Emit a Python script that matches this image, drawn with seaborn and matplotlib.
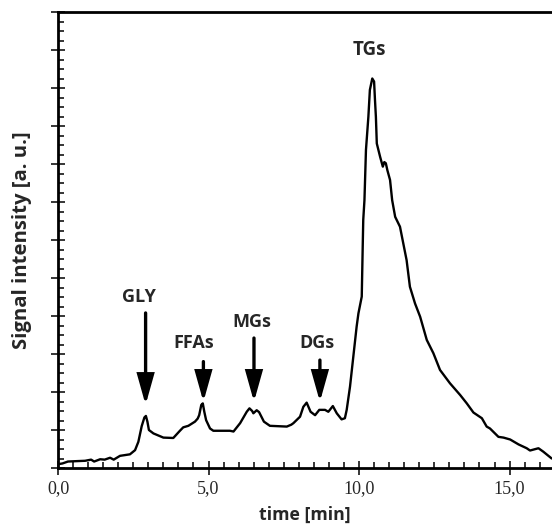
import matplotlib
matplotlib.use("Agg")
import matplotlib.pyplot as plt
from matplotlib.ticker import MultipleLocator
import seaborn as sns
import pandas as pd

# ---- data ----
time_min = [0.0, 0.15, 0.33, 0.6, 0.9, 1.1, 1.2, 1.4, 1.55, 1.73, 1.85, 2.06, 2.39, 2.56,
            2.67, 2.78, 2.87, 2.92, 2.97, 3.02, 3.17, 3.5, 3.83, 4.05, 4.16, 4.33, 4.55,
            4.64, 4.69, 4.76, 4.81, 4.86, 4.92, 5.05, 5.16, 5.71, 5.83, 6.05, 6.27, 6.36,
            6.45, 6.49, 6.60, 6.68, 6.84, 7.04, 7.60, 7.75, 7.82, 8.04, 8.15, 8.26, 8.39,
            8.54, 8.68, 8.87, 8.98, 9.13, 9.26, 9.42, 9.53, 9.59, 9.70, 9.81, 9.92, 9.98,
            10.09, 10.12, 10.14, 10.18, 10.23, 10.31, 10.36, 10.44, 10.50, 10.53, 10.56,
            10.59, 10.70, 10.79, 10.84, 10.89, 10.94, 11.03, 11.10, 11.20, 11.36, 11.47,
            11.58, 11.69, 11.86, 12.03, 12.25, 12.47, 12.69, 13.02, 13.36, 13.58, 13.80,
            14.08, 14.24, 14.35, 14.63, 14.80, 15.02, 15.30, 15.57, 15.68, 15.96, 16.12, 16.40]
signal = [0.10, 0.12, 0.17, 0.18, 0.19, 0.22, 0.17, 0.23, 0.22, 0.27, 0.22, 0.32, 0.36, 0.47,
          0.69, 1.10, 1.33, 1.37, 1.22, 1.00, 0.91, 0.80, 0.79, 0.98, 1.07, 1.11, 1.22,
          1.30, 1.39, 1.66, 1.70, 1.48, 1.26, 1.04, 0.98, 0.98, 0.96, 1.18, 1.48, 1.57,
          1.50, 1.44, 1.52, 1.47, 1.22, 1.11, 1.09, 1.14, 1.18, 1.35, 1.61, 1.72, 1.48,
          1.39, 1.53, 1.53, 1.48, 1.63, 1.44, 1.28, 1.31, 1.53, 2.14, 2.93, 3.72, 4.07,
          4.51, 5.74, 6.53, 7.05, 8.37, 9.24, 9.95, 10.25, 10.17, 9.68, 9.24,
          8.54, 8.19, 7.93, 8.05, 8.02, 7.84, 7.58, 7.05, 6.61, 6.35, 5.91,
          5.47, 4.77, 4.33, 3.98, 3.37, 3.02, 2.58, 2.23, 1.92, 1.70, 1.46,
          1.31, 1.09, 1.04, 0.82, 0.80, 0.75, 0.62, 0.52, 0.46, 0.52, 0.43, 0.25]

x_tick_values = [0, 5, 10, 15]
x_tick_labels = ["0,0", "5,0", "10,0", "15,0"]

peak_labels = ["GLY", "FFAs", "MGs", "DGs"]
peak_x = [2.91, 4.83, 6.51, 8.70]
arrow_tip_y = [1.66, 1.74, 1.74, 1.74]
arrow_tail_y = [4.08, 2.80, 3.42, 2.84]
label_x = [2.69, 4.50, 6.44, 8.59]
label_y = [4.50, 3.28, 3.85, 3.28]
tg_label = "TGs"
tg_x, tg_y = 10.34, 11.0

df = pd.DataFrame({"time": time_min, "signal": signal})

sns.set_theme(style="white")
plt.rcParams["font.family"] = ["Open Sans", "DejaVu Sans"]

fig = plt.figure(figsize=(5.52, 5.26), dpi=100)
ax = fig.add_axes([58 / 552, 58 / 526, 494 / 552, 456 / 526])

sns.lineplot(data=df, x="time", y="signal", ax=ax, color="black", linewidth=1.7,
             estimator=None, sort=False)

ax.set_xlim(0, 16.41)
ax.set_ylim(0, 12)

for side in ["left", "bottom", "top"]:
    ax.spines[side].set_visible(True)
    ax.spines[side].set_color("black")
    ax.spines[side].set_linewidth(2.0)
ax.spines["right"].set_visible(False)

ax.set_xticks(x_tick_values)
ax.set_xticklabels(x_tick_labels, fontfamily="Liberation Serif", fontsize=13)
ax.xaxis.set_minor_locator(MultipleLocator(0.5))
ax.yaxis.set_major_locator(MultipleLocator(1))
ax.yaxis.set_minor_locator(MultipleLocator(0.25))
ax.set_yticklabels([])
ax.tick_params(which="major", direction="inout", length=10, width=1.1, color="black",
               bottom=True, left=True, top=False, right=False, pad=4)
ax.tick_params(which="minor", direction="in", length=4.5, width=1.1, color="black",
               bottom=True, left=True, top=False, right=False)

ax.set_xlabel("time [min]", fontsize=12.8, fontweight="bold")
ax.set_ylabel("Signal intensity [a. u.]", fontsize=14.6, fontweight="bold")
ax.xaxis.set_label_coords(0.5, -0.083)
ax.yaxis.set_label_coords(-0.052, 0.5)

for lab, px, ty, hy, lx, ly in zip(peak_labels, peak_x, arrow_tip_y, arrow_tail_y, label_x, label_y):
    ax.annotate("", xy=(px, ty), xytext=(px, hy),
                arrowprops=dict(arrowstyle="-|>,head_length=1.0,head_width=0.28",
                                lw=2.4, color="black", mutation_scale=18,
                                shrinkA=0, shrinkB=0, joinstyle="miter"))
    ax.text(lx, ly, lab, ha="center", va="center", fontsize=13, fontweight="bold")

ax.text(tg_x, tg_y, tg_label, ha="center", va="center", fontsize=13.5, fontweight="bold")

fig.savefig("out.png", dpi=100)
